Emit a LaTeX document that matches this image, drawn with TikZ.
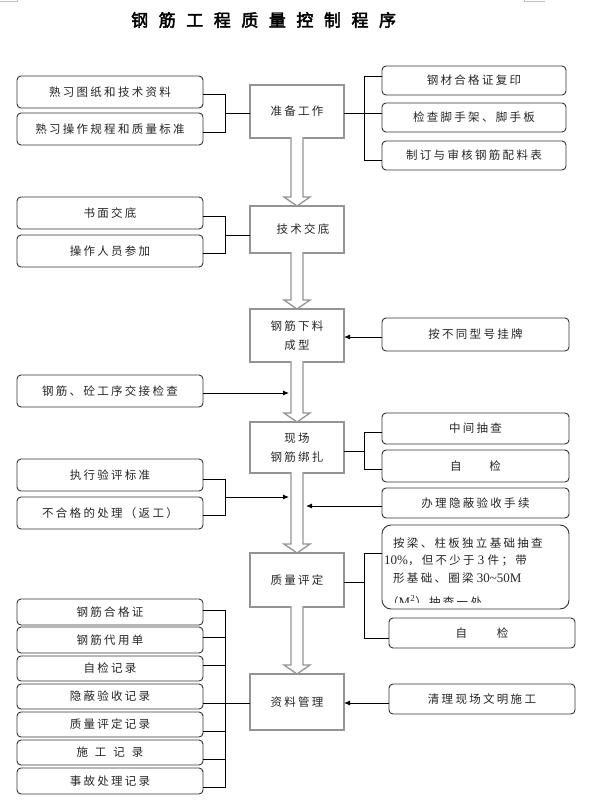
\documentclass[tikz,border=0pt]{standalone}
\usepackage{fontspec}
\setmainfont{Liberation Serif}
\newfontfamily\cjk[LetterSpace=20]{Noto Sans CJK SC}
\newfontfamily\cjktitle[LetterSpace=62,FakeBold=2.5]{Noto Sans CJK SC}
\usetikzlibrary{arrows.meta}
\tikzset{
  rbox/.style={draw=black!80, line width=0.9pt, rounded corners=4pt, fill=white,
    inner sep=0pt, outer sep=0pt, font=\cjk\fontsize{11.5}{14}\selectfont, text=black!85},
  cbox/.style={draw=black!42, line width=1.5pt, fill=white, minimum width=94pt,
    inner sep=0pt, outer sep=0pt, align=center,
    font=\cjk\fontsize{11.5}{19}\selectfont, text=black!85},
  conn/.style={draw=black, line width=0.9pt},
  arr/.style={conn, -{Latex[length=6pt,width=5pt]}},
  harrow/.style={draw=black!42, line width=1.3pt, line join=miter},
  btxt/.style={anchor=west, inner sep=0pt, font=\cjk\fontsize{11.5}{14}\selectfont, text=black!85}
}
\newcommand\hollowarrow[2]{%
  \path (#1.south) coordinate (ha) (#2.north) coordinate (hb);
  \fill[white] ([xshift=-6pt,yshift=1.4pt]ha) -- ([xshift=-6pt,yshift=9pt]hb) -- ([xshift=-13pt,yshift=9pt]hb)
     -- (hb) -- ([xshift=13pt,yshift=9pt]hb) -- ([xshift=6pt,yshift=9pt]hb) -- ([xshift=6pt,yshift=1.4pt]ha) -- cycle;
  \draw[harrow] ([xshift=-6pt,yshift=0.8pt]ha) -- ([xshift=-6pt,yshift=9pt]hb) -- ([xshift=-13pt,yshift=9pt]hb)
     -- (hb) -- ([xshift=13pt,yshift=9pt]hb) -- ([xshift=6pt,yshift=9pt]hb) -- ([xshift=6pt,yshift=0.8pt]ha);
}
\begin{document}
\begin{tikzpicture}[x=1pt,y=-1pt]
\useasboundingbox[fill=white] (0,0) rectangle (589,806);
% page corner marks
\draw[black!25, line width=0.6pt] (0,1.5) -- (17,1.5) -- (17,0);
\draw[black!25, line width=0.6pt] (524,0) -- (524,1.5) -- (545,1.5);
% title
\node[anchor=west, inner sep=0pt, font=\cjktitle\fontsize{17}{20}\selectfont] (title) at (131,20) {钢筋工程质量控制程序};

% helper coordinates
\coordinate (bxl) at (225,0);
\coordinate (bxr) at (364,0);
\coordinate (sxl) at (289,0);
\coordinate (sxr) at (306,0);

% center column
\node[cbox, minimum height=53pt] (C1) at (297,111.5) {准备工作};
\node[cbox, minimum height=47pt] (C2) at (297,229.5) {\hspace*{12pt}技术交底};
\node[cbox, minimum height=53pt] (C3) at (297,335.5) {钢筋下料\\成型};
\node[cbox, minimum height=51pt] (C4) at (297,447.5) {现场\\钢筋绑扎};
\node[cbox, minimum height=54pt] (C5) at (297,580) {质量评定};
\node[cbox, minimum height=56pt] (C6) at (297,702) {资料管理};

% left boxes
\node[rbox, minimum width=186pt, minimum height=32pt] (L1) at (110,92) {熟习图纸和技术资料};
\node[rbox, minimum width=186pt, minimum height=32pt] (L2) at (110,129) {熟习操作规程和质量标准};
\node[rbox, minimum width=186pt, minimum height=32pt] (L3) at (110,213) {书面交底};
\node[rbox, minimum width=186pt, minimum height=32pt] (L4) at (110,251) {操作人员参加};
\node[rbox, minimum width=186pt, minimum height=32pt] (L5) at (110,391) {钢筋、砼工序交接检查};
\node[rbox, minimum width=186pt, minimum height=32pt] (L6) at (110,475) {执行验评标准};
\node[rbox, minimum width=186pt, minimum height=32pt] (L7) at (110,513) {不合格的处理（返工）};
\node[rbox, minimum width=186pt, minimum height=26pt] (L8) at (110,612) {钢筋合格证};
\node[rbox, minimum width=186pt, minimum height=26pt] (L9) at (110,640) {钢筋代用单};
\node[rbox, minimum width=186pt, minimum height=25pt] (L10) at (110,668.5) {自检记录};
\node[rbox, minimum width=186pt, minimum height=25pt] (L11) at (110,696.5) {隐蔽验收记录};
\node[rbox, minimum width=186pt, minimum height=25pt] (L12) at (110,724.5) {质量评定记录};
\node[rbox, minimum width=186pt, minimum height=25pt] (L13) at (110,752.5) {施\hspace{7pt}工\hspace{7pt}记\hspace{7pt}录};
\node[rbox, minimum width=186pt, minimum height=26pt] (L14) at (110,781) {事故处理记录};

% right boxes
\node[rbox, minimum width=184pt, minimum height=29pt] (R1) at (474,80.5) {钢材合格证复印};
\node[rbox, minimum width=184pt, minimum height=29pt] (R2) at (474,117.5) {检查脚手架、脚手板};
\node[rbox, minimum width=184pt, minimum height=29pt] (R3) at (474,155.5) {制订与审核钢筋配料表};
\node[rbox, minimum width=187pt, minimum height=33pt] (R4) at (475.5,334.5) {按不同型号挂牌};
\node[rbox, minimum width=187pt, minimum height=31pt] (R5) at (475.5,428.5) {中间抽查};
\node[rbox, minimum width=187pt, minimum height=32pt] (R6) at (475.5,466) {自\hspace{28pt}检};
\node[rbox, minimum width=187pt, minimum height=30pt] (R7) at (475.5,503) {办理隐蔽验收手续};
\node[rbox, minimum width=187pt, minimum height=84pt, rounded corners=9pt] (R8) at (475.5,567) {};
\node[rbox, minimum width=186pt, minimum height=30pt] (R9) at (482,633) {自\hspace{30pt}检};
\node[rbox, minimum width=186pt, minimum height=30pt] (R10) at (482,699) {清理现场文明施工};

% text of the big box
\begin{scope}
\clip (383,526) rectangle (568,602.5);
\node[btxt] (t1) at (393,543) {按梁、柱板独立基础抽查};
\node[btxt] (t2) at (384,561) {\fontsize{13}{14}\rmfamily 10\%{\cjk\fontsize{11.5}{14}\selectfont ，但不少于} 3 {\cjk\fontsize{11.5}{14}\selectfont 件；带}};
\node[btxt] (t3) at (393,578) {形基础、圈梁{\fontsize{13}{14}\rmfamily\ 30\textasciitilde50M}};
\node[btxt] (t4) at (387,601.5) {（{\fontsize{13}{14}\rmfamily M\textsuperscript{2}}）抽查一处};
\end{scope}

% hollow main arrows
\hollowarrow{C1}{C2}
\hollowarrow{C2}{C3}
\hollowarrow{C3}{C4}
\hollowarrow{C4}{C5}
\hollowarrow{C5}{C6}

% brackets row 1 left
\draw[conn] ([yshift=-2pt]L1.east) -- ([yshift=-2pt]L1.east -| bxl) -- ([yshift=-3pt]L2.east -| bxl) -- ([yshift=-3pt]L2.east);
\draw[conn] ([yshift=-1.5pt]C1.west -| bxl) -- ([yshift=-1.5pt]C1.west);
% row 1 right
\draw[conn] ([yshift=4.5pt]R1.west) -- ([yshift=4.5pt]R1.west -| bxr) -- ([yshift=-4.5pt]R3.west -| bxr) -- ([yshift=-4.5pt]R3.west);
\draw[conn] ([yshift=-1.5pt]C1.east) -- ([yshift=-1.5pt]C1.east -| R2.west);
% row 2 left
\draw[conn] ([yshift=-3pt]L3.east) -- ([yshift=-3pt]L3.east -| bxl) -- ([yshift=-2pt]L4.east -| bxl) -- ([yshift=-2pt]L4.east);
\draw[conn] ([yshift=-5.5pt]C2.west -| bxl) -- ([yshift=-5.5pt]C2.west);
% row 3
\draw[arr] ([yshift=-2.5pt]R4.west) -- ([yshift=-2.5pt]R4.west -| C3.east);
\draw[arr] ([yshift=-2pt]L5.east) -- ([yshift=-2pt]L5.east -| sxl);
% row 4 right
\draw[conn] ([yshift=-3.5pt]R5.west) -- ([yshift=-3.5pt]R5.west -| bxr) -- ([yshift=-3pt]R6.west -| bxr) -- ([yshift=-3pt]R6.west);
\draw[conn] ([yshift=-3.5pt]C4.east) -- ([yshift=-3.5pt]C4.east -| bxr);
% row 4 left
\draw[conn] ([yshift=-4pt]L6.east) -- ([yshift=-4pt]L6.east -| bxl) -- ([yshift=-2pt]L7.east -| bxl) -- ([yshift=-2pt]L7.east);
\draw[arr] ([yshift=16pt]L7.east -| bxl) -- ([yshift=16pt]L7.east -| sxl);
\draw[arr] ([yshift=-3pt]R7.west) -- ([yshift=-3pt]R7.west -| sxr);
% row 5 right
\draw[conn] ([yshift=14pt]R8.west) -- ([yshift=14pt]R8.west -| bxr) -- ([yshift=-5pt]R9.west -| bxr) -- ([yshift=-5pt]R9.west);
\draw[conn] ([yshift=-2pt]C5.east) -- ([yshift=-2pt]C5.east -| bxr);
% row 6 left
\draw[conn] ([yshift=2pt]L8.east) -- ([yshift=2pt]L8.east -| bxl) -- ([yshift=-6pt]L14.east -| bxl) -- ([yshift=-6pt]L14.east);
\draw[conn] ([yshift=3pt]L9.east) -- ([yshift=3pt]L9.east -| bxl);
\draw[conn] ([yshift=3.5pt]L10.east) -- ([yshift=3.5pt]L10.east -| bxl);
\draw[conn] ([yshift=-6.5pt]L11.east) -- ([yshift=-6.5pt]L11.east -| C6.west);
\draw[conn] ([yshift=-6.5pt]L12.east) -- ([yshift=-6.5pt]L12.east -| bxl);
\draw[conn] ([yshift=-6.5pt]L13.east) -- ([yshift=-6.5pt]L13.east -| bxl);
% row 6 right
\draw[arr] ([yshift=-4pt]R10.west) -- ([yshift=-4pt]R10.west -| C6.east);
\end{tikzpicture}
\end{document}
